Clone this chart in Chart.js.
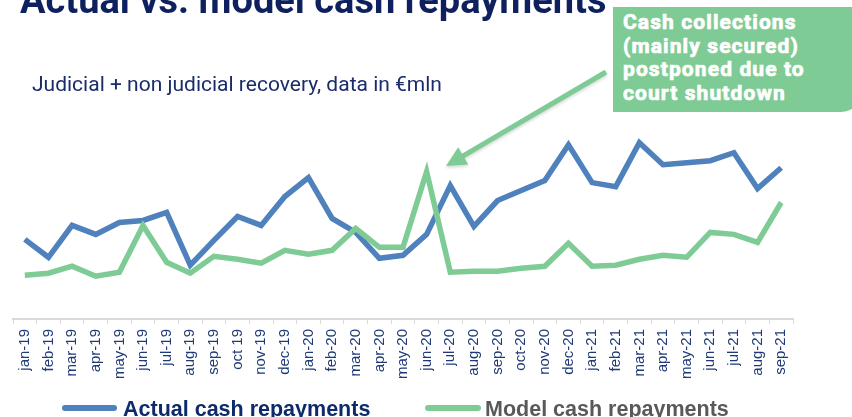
<!DOCTYPE html>
<html lang="en">
<head>
<meta charset="utf-8">
<title>Actual vs. model cash repayments</title>
<style>
  html, body { margin: 0; padding: 0; background: #fff; }
  #wrap { position: relative; width: 852px; height: 417px; overflow: hidden; }
  #title { position: absolute; left: 20px; top: -22px; font: bold 38px Roboto, Arial, sans-serif; color: #0e215e; white-space: nowrap; }
  #subtitle { position: absolute; left: 32px; top: 72px; font: 21px Roboto, Arial, sans-serif; color: #1b2c6b; white-space: nowrap; }
  #callout { position: absolute; left: 613px; top: 7px; width: 250px; height: 105px; background: #7fcb95;
             border-bottom-right-radius: 22px; box-sizing: border-box; padding: 4px 0 0 10px;
             font: bold 21px/23.5px Roboto, Arial, sans-serif; letter-spacing: 1.1px;
             -webkit-text-stroke: 0.7px #fff; color: #fff; }
  .leg { position: absolute; top: 397px; font: bold 21.5px/24px Arial, sans-serif; white-space: nowrap; }
  .legline { position: absolute; top: 405px; height: 6px; border-radius: 3px; }
  canvas { position: absolute; left: 0; top: 0; }
</style>
</head>
<body>
<div id="wrap">
  <canvas id="myChart" width="852" height="417"></canvas>
  <div id="title">Actual vs. model cash repayments</div>
  <div id="subtitle">Judicial + non judicial recovery, data in €mln</div>
  <div id="callout">Cash collections<br>(mainly secured)<br>postponed due to<br>court shutdown</div>
  <div class="legline" style="left:62px; width:55px; background:#4f81bd"></div>
  <div class="leg" style="left:123px; color:#0d2a6b">Actual cash repayments</div>
  <div class="legline" style="left:425px; width:56px; background:#7fcb95"></div>
  <div class="leg" style="left:485px; color:#595959">Model cash repayments</div>
</div>
<script src="https://cdn.jsdelivr.net/npm/chart.js"></script>
<script>
    var months = ['jan-19', 'feb-19', 'mar-19', 'apr-19', 'may-19', 'jun-19', 'jul-19', 'aug-19', 'sep-19', 'oct 19', 'nov-19', 'dec-19',
        'jan-20', 'feb-20', 'mar-20', 'apr-20', 'may-20', 'jun-20', 'jul-20', 'aug-20', 'sep-20', 'oct-20', 'nov-20', 'dec-20',
        'jan-21', 'feb-21', 'mar-21', 'apr-21', 'may-21', 'jun-21', 'jul-21', 'aug-21', 'sep-21'];

    // values (no axis shown, in €mln-ish units)
    var actualRepayments = [16, 12.4, 18.8, 17, 19.4, 19.8, 21.4, 10.8, 15.8, 20.6, 18.8, 24.6,
        28.4, 20.2, 17.4, 12.2, 12.8, 17, 26.8, 18.6, 23.8, 25.8, 27.8, 35,
        27.4, 26.6, 35.4, 31, 31.4, 31.8, 33.4, 26.2, 30.4];
    var modelRepayments = [8.8, 9.2, 10.6, 8.6, 9.4, 18.8, 11.4, 9.2, 12.6, 12, 11.2, 13.8,
        13, 13.8, 18.2, 14.4, 14.4, 29.6, 9.4, 9.6, 9.6, 10.2, 10.6, 15.2,
        10.6, 10.8, 12, 12.8, 12.4, 17.4, 17, 15.4, 23.4];

    var blue = '#4f81bd';
    var green = '#7fcb95';

    // arrow from the callout to the june 2020 spike
    var arrowPlugin = {
        id: 'arrow',
        afterDatasetsDraw: function (chart) {
            var c = chart.ctx;
            var x1 = 606, y1 = 72, x2 = 446, y2 = 166;
            var ang = Math.atan2(y2 - y1, x2 - x1);
            var cos = Math.cos(ang), sin = Math.sin(ang);
            c.save();
            c.strokeStyle = green;
            c.fillStyle = green;
            c.shadowColor = 'rgba(0,0,0,0.15)';
            c.shadowBlur = 3;
            c.shadowOffsetY = 2;
            c.lineWidth = 5;
            c.beginPath();
            c.moveTo(x1, y1);
            c.lineTo(x2 - 14 * cos, y2 - 14 * sin);
            c.stroke();
            c.beginPath();
            c.moveTo(x2, y2);
            c.lineTo(x2 - 20 * cos + 10 * sin, y2 - 20 * sin - 10 * cos);
            c.lineTo(x2 - 20 * cos - 10 * sin, y2 - 20 * sin + 10 * cos);
            c.closePath();
            c.fill();
            c.restore();
        }
    };

    var ctx = document.getElementById('myChart').getContext('2d');
    var myChart = new Chart(ctx, {
        type: 'line',
        data: {
            labels: months,
            datasets: [{
                label: 'Actual cash repayments',
                data: actualRepayments,
                borderColor: blue,
                backgroundColor: blue,
                borderWidth: 5.5,
                pointRadius: 0,
                tension: 0,
                order: 1
            }, {
                label: 'Model cash repayments',
                data: modelRepayments,
                borderColor: green,
                backgroundColor: green,
                borderWidth: 5.5,
                pointRadius: 0,
                tension: 0,
                order: 0
            }]
        },
        options: {
            responsive: false,
            animation: false,
            layout: { padding: { top: 100, right: 59, left: 13, bottom: 33 } },
            scales: {
                x: {
                    offset: true,
                    grid: { offset: true, drawOnChartArea: false, color: '#d9d9d9', tickLength: 5 },
                    border: { color: '#d9d9d9', width: 2 },
                    ticks: {
                        minRotation: 90, maxRotation: 90, autoSkip: false, padding: 5,
                        color: '#1f3a78', font: { family: 'Arial', size: 15 }
                    }
                },
                y: { display: false, min: 0, max: 44 }
            },
            plugins: {
                tooltip: { enabled: false },
                legend: { display: false }
            }
        },
        plugins: [arrowPlugin]
    });
</script>
</body>
</html>
